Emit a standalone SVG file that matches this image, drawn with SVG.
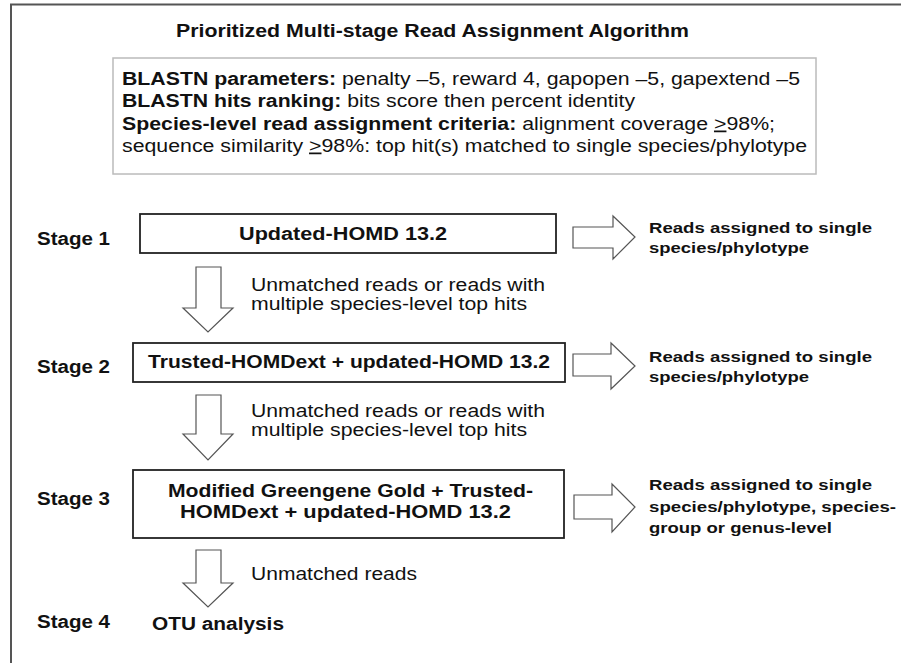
<svg xmlns="http://www.w3.org/2000/svg" width="901" height="663" viewBox="0 0 901 663">
<style>
text{font-family:"Liberation Sans",Arial,sans-serif;fill:#111}
.b{font-weight:bold}
.t{font-size:17.5px}
.r{font-size:15.5px;font-weight:bold}
.box{fill:#fff;stroke:#222;stroke-width:1.8}
.arr{fill:#fff;stroke:#555;stroke-width:1.2;stroke-linejoin:miter}
</style>
<rect width="901" height="663" fill="#fff"/>
<path id="frame" d="M11,680 V4.5 H910" fill="none" stroke="#555" stroke-width="2"/>
<g id="title"><text class="b t" x="176" y="37" textLength="513" lengthAdjust="spacingAndGlyphs">Prioritized Multi-stage Read Assignment Algorithm</text></g>
<g id="params">
<rect x="113" y="58" width="703" height="116" fill="#fff" stroke="#bbb" stroke-width="1.5"/>
<text class="t" x="122" y="85" textLength="678" lengthAdjust="spacingAndGlyphs"><tspan class="b">BLASTN parameters:</tspan> penalty –5, reward 4, gapopen –5, gapextend –5</text>
<text class="t" x="122" y="107" textLength="513" lengthAdjust="spacingAndGlyphs"><tspan class="b">BLASTN hits ranking:</tspan> bits score then percent identity</text>
<text class="t" x="122" y="129.5" textLength="653" lengthAdjust="spacingAndGlyphs"><tspan class="b">Species-level read assignment criteria:</tspan> alignment coverage <tspan text-decoration="underline">&gt;</tspan>98%;</text>
<text class="t" x="122" y="151.5" textLength="685" lengthAdjust="spacingAndGlyphs">sequence similarity <tspan text-decoration="underline">&gt;</tspan>98%: top hit(s) matched to single species/phylotype</text>
</g>
<g id="stage1">
<text class="b t" x="37" y="245" textLength="73" lengthAdjust="spacingAndGlyphs">Stage 1</text>
<rect class="box" x="140" y="214" width="416" height="39"/>
<text class="b t" x="239" y="240" textLength="208" lengthAdjust="spacingAndGlyphs">Updated-HOMD 13.2</text>
</g>
<g id="out1">
<text class="r" x="649" y="233" textLength="223" lengthAdjust="spacingAndGlyphs">Reads assigned to single</text>
<text class="r" x="649" y="253" textLength="160" lengthAdjust="spacingAndGlyphs">species/phylotype</text>
</g>
<g id="stage2">
<text class="b t" x="37" y="373" textLength="73" lengthAdjust="spacingAndGlyphs">Stage 2</text>
<rect class="box" x="133" y="343" width="432" height="39"/>
<text class="b t" x="148" y="368" textLength="402" lengthAdjust="spacingAndGlyphs">Trusted-HOMDext + updated-HOMD 13.2</text>
</g>
<g id="out2">
<text class="r" x="649" y="362" textLength="223" lengthAdjust="spacingAndGlyphs">Reads assigned to single</text>
<text class="r" x="649" y="382" textLength="160" lengthAdjust="spacingAndGlyphs">species/phylotype</text>
</g>
<g id="stage3">
<text class="b t" x="37" y="505" textLength="73" lengthAdjust="spacingAndGlyphs">Stage 3</text>
<rect class="box" x="133" y="470" width="431" height="68"/>
<text class="b t" x="168" y="497" textLength="365" lengthAdjust="spacingAndGlyphs">Modified Greengene Gold + Trusted-</text>
<text class="b t" x="180" y="518" textLength="331" lengthAdjust="spacingAndGlyphs">HOMDext + updated-HOMD 13.2</text>
</g>
<g id="out3">
<text class="r" x="649" y="490" textLength="223" lengthAdjust="spacingAndGlyphs">Reads assigned to single</text>
<text class="r" x="649" y="512" textLength="247" lengthAdjust="spacingAndGlyphs">species/phylotype, species-</text>
<text class="r" x="649" y="533" textLength="183" lengthAdjust="spacingAndGlyphs">group or genus-level</text>
</g>
<g id="stage4">
<text class="b t" x="37" y="628" textLength="73" lengthAdjust="spacingAndGlyphs">Stage 4</text>
<text class="b t" x="152" y="630" textLength="132" lengthAdjust="spacingAndGlyphs">OTU analysis</text>
</g>
<g id="connectors">
<path class="arr" d="M573,227 H613 V216 L635,237 L613,259 V248 H573 Z"/>
<path class="arr" d="M573,354 H611 V343 L635,366 L611,389 V376 H573 Z"/>
<path class="arr" d="M574,495 H612 V484 L635,507 L612,532 V519 H574 Z"/>
<path class="arr" d="M196,267 H221 V308 H233 L208,332 L183,308 H196 Z"/>
<path class="arr" d="M196,395 H221 V434 H233 L208,460 L183,434 H196 Z"/>
<path class="arr" d="M196,550 H221 V583 H233 L208,607 L183,583 H196 Z"/>
<text class="t" x="251" y="291" textLength="294" lengthAdjust="spacingAndGlyphs">Unmatched reads or reads with</text>
<text class="t" x="251" y="310" textLength="276" lengthAdjust="spacingAndGlyphs">multiple species-level top hits</text>
<text class="t" x="251" y="417" textLength="294" lengthAdjust="spacingAndGlyphs">Unmatched reads or reads with</text>
<text class="t" x="251" y="436" textLength="276" lengthAdjust="spacingAndGlyphs">multiple species-level top hits</text>
<text class="t" x="251" y="580" textLength="166" lengthAdjust="spacingAndGlyphs">Unmatched reads</text>
</g>
</svg>
